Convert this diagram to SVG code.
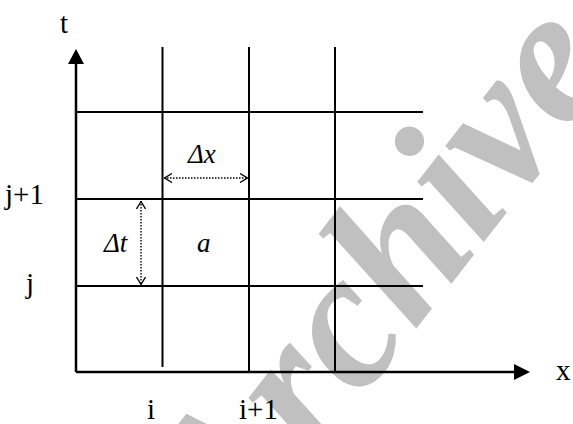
<svg xmlns="http://www.w3.org/2000/svg" width="573" height="424" viewBox="0 0 573 424">
<defs>
<marker id="open" viewBox="0 0 8 10" refX="8" refY="5" markerWidth="8" markerHeight="10" markerUnits="userSpaceOnUse" orient="auto-start-reverse">
<path d="M0,0.5 L7.5,5 L0,9.5" fill="none" stroke="#000" stroke-width="1.3"/>
</marker>
</defs>
<style>
.ln{stroke:#000;stroke-width:2;fill:none}
.ax{stroke:#000;stroke-width:2.5;fill:none}
.dot{stroke:#000;stroke-width:1.4;stroke-dasharray:1.5 1.5;fill:none}
.lbl{font-family:"Liberation Serif","Times New Roman",serif;font-size:29px;fill:#000}
.it{font-family:"Liberation Serif","Times New Roman",serif;font-size:27px;font-style:italic;fill:#000}
.wm{font-family:"Liberation Serif","Times New Roman",serif;font-size:195px;font-style:italic;font-weight:bold;fill:#c0c0c0}
</style>
<rect width="573" height="424" fill="#fff"/>
<text class="wm" transform="translate(234,562) rotate(-52)">Archive</text>
<g id="grid">
<line class="ln" x1="76" y1="112" x2="423" y2="112"/>
<line class="ln" x1="76" y1="199" x2="423" y2="199"/>
<line class="ln" x1="76" y1="286" x2="423" y2="286"/>
<line class="ln" x1="162.5" y1="47" x2="162.5" y2="367"/>
<line class="ln" x1="249" y1="47" x2="249" y2="372"/>
<line class="ln" x1="335" y1="47" x2="335" y2="372"/>
</g>
<g id="axes">
<line class="ax" x1="76" y1="372" x2="76" y2="64"/>
<path d="M76,49 L84,64 L68,64 Z" fill="#000"/>
<line class="ax" x1="76" y1="372" x2="514" y2="372"/>
<path d="M530,372 L514,364 L514,380 Z" fill="#000"/>
</g>
<g id="labels">
<text class="lbl" x="60" y="33">t</text>
<text class="lbl" x="556" y="380">x</text>
<text class="lbl" x="5" y="204">j+1</text>
<text class="lbl" x="26" y="293">j</text>
<text class="lbl" x="147" y="419">i</text>
<text class="lbl" x="239" y="419">i+1</text>
<text class="it" x="188" y="163">Δx</text>
<text class="it" x="104" y="252">Δt</text>
<text class="it" x="197" y="252">a</text>
</g>
<g id="connectors">
<line class="dot" x1="164" y1="178" x2="248" y2="178" marker-start="url(#open)" marker-end="url(#open)"/>
<line class="dot" x1="141" y1="201" x2="141" y2="285" marker-start="url(#open)" marker-end="url(#open)"/>
</g>
</svg>
